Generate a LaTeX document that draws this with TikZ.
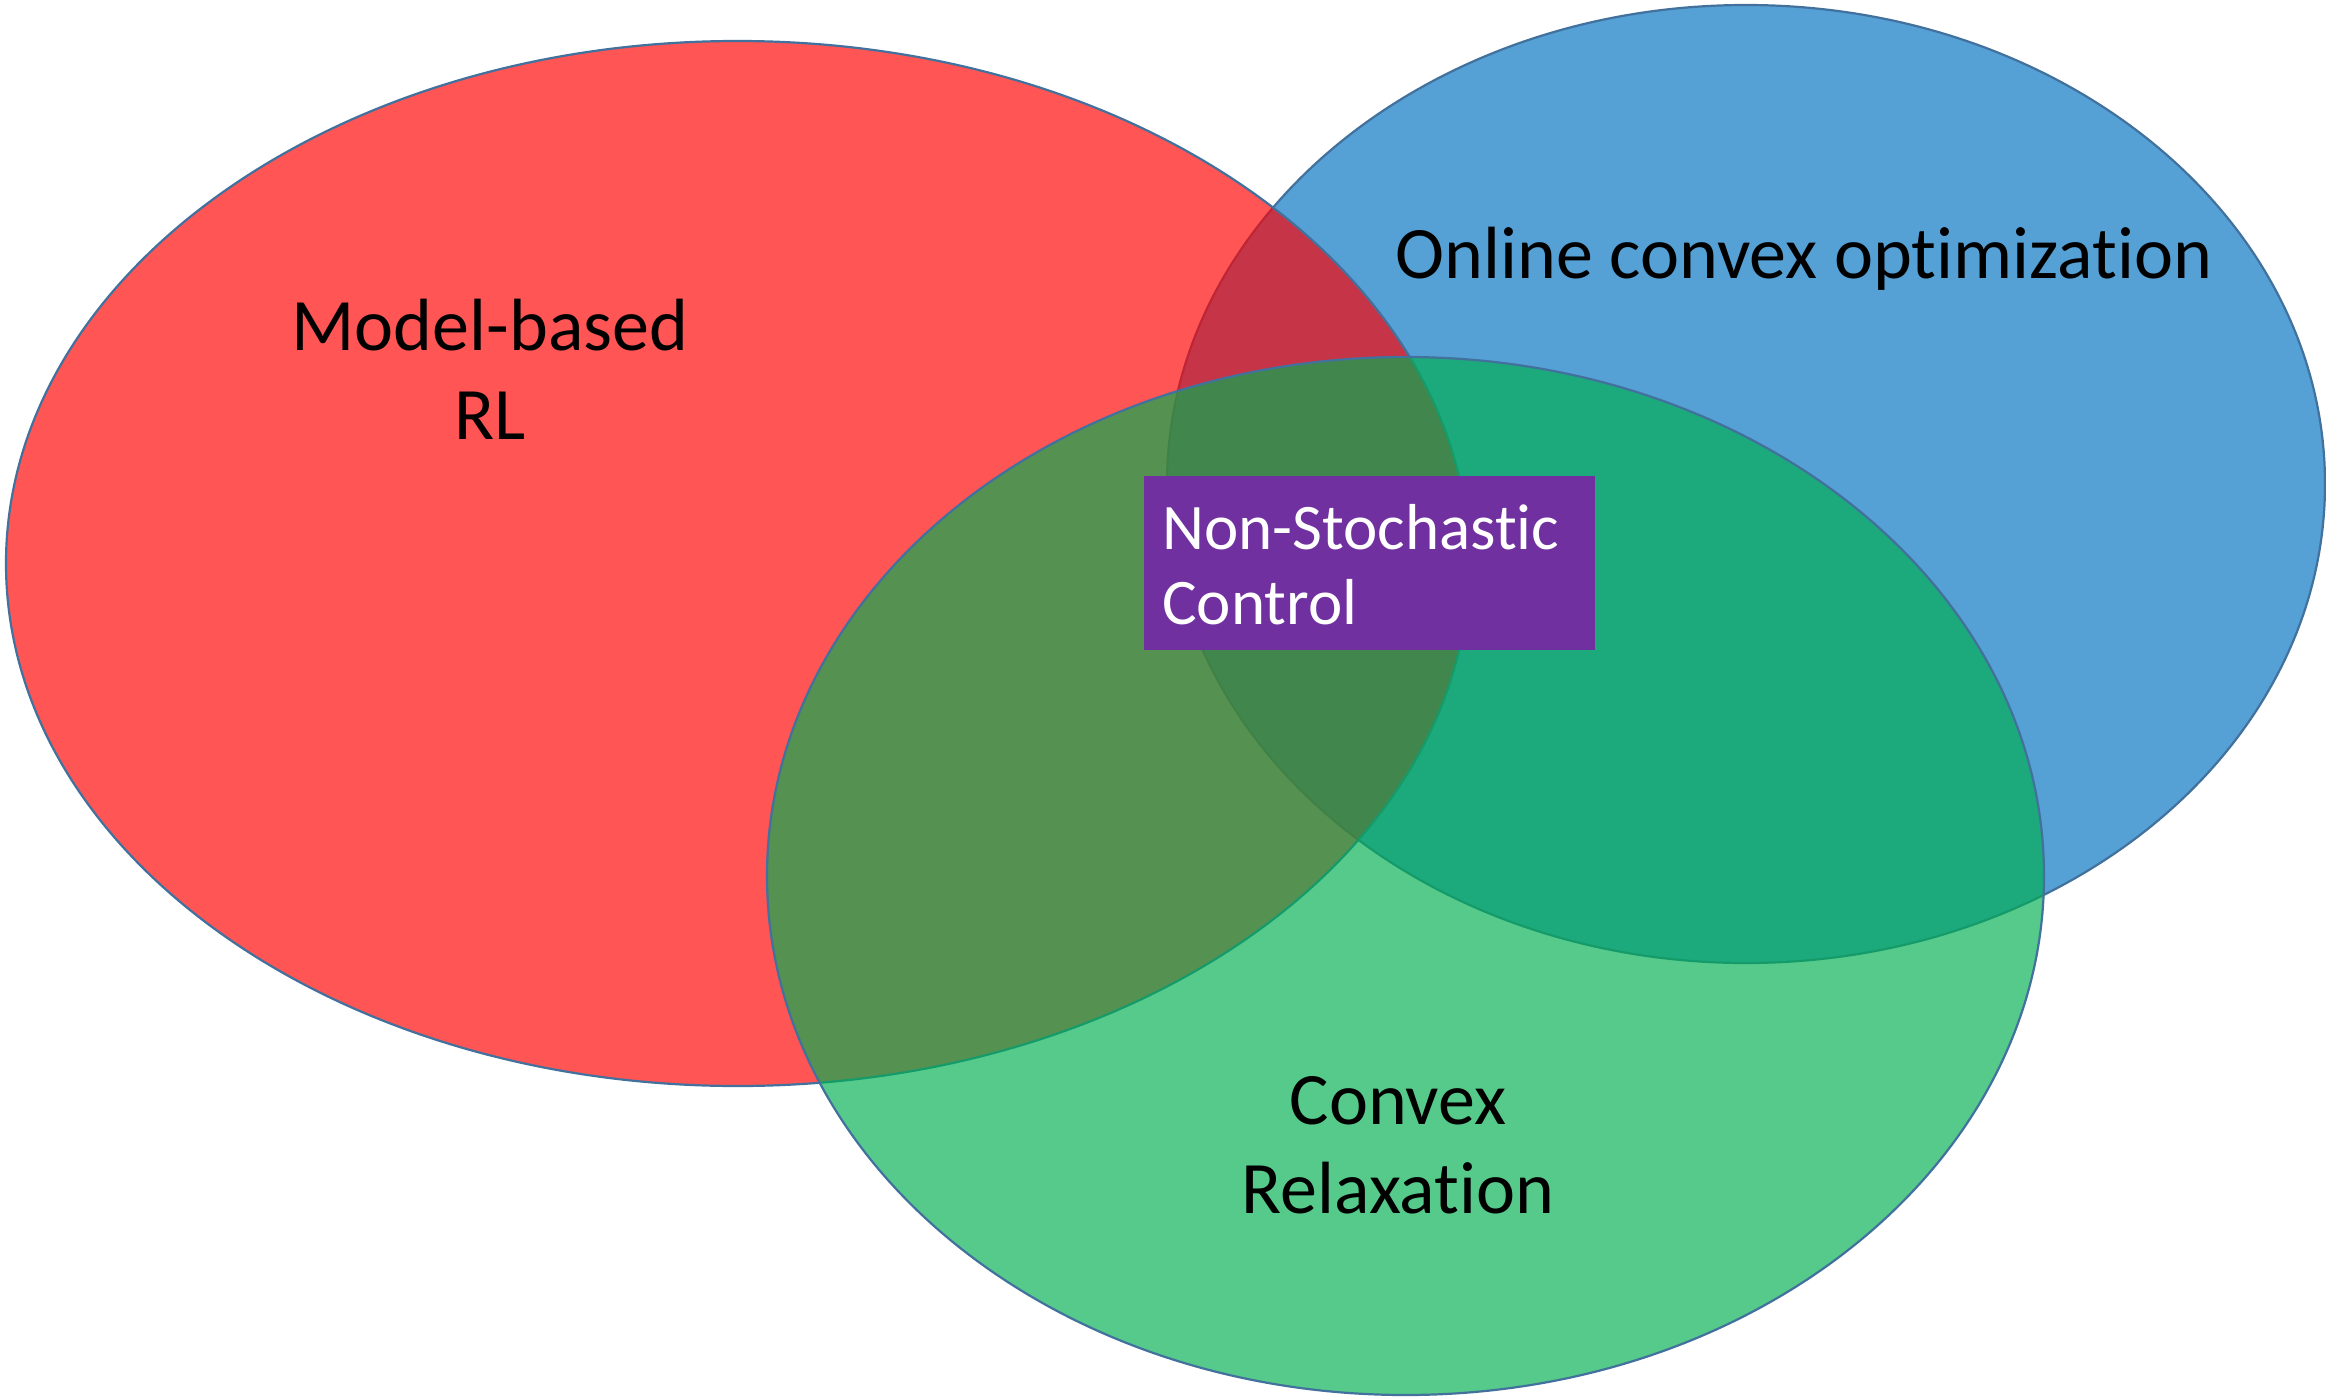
\documentclass[tikz,border=0pt]{standalone}
\usepackage{fontspec}
\setmainfont{Carlito}[Ligatures=NoCommon]
\usetikzlibrary{shapes.geometric}
\definecolor{setred}{HTML}{FF0000}
\definecolor{setblue}{HTML}{0070C0}
\definecolor{setgreen}{HTML}{00B050}
\definecolor{setline}{HTML}{41719C}
\definecolor{corebox}{HTML}{7030A0}
\tikzset{
  setellipse/.style={ellipse, draw=setline, line width=2.2pt, fill opacity=0.667, inner sep=0pt, outer sep=0pt},
  % multi-line labels are anchored at the baseline of their last line
  setlabel/.style={anchor=base, align=center, text=black, inner sep=0pt, font=\fontsize{74pt}{89pt}\selectfont},
  corelabel/.style={anchor=base west, align=left, text=white, inner sep=0pt, font=\fontsize{65pt}{75pt}\selectfont},
}
\begin{document}
\begin{tikzpicture}[x=1pt, y=-1pt]
  \useasboundingbox (0,0) rectangle (2326,1397);
  % three overlapping research areas
  \node[setellipse, fill=setblue, minimum width=1158pt, minimum height=958pt] (oco) at (1746,484) {};
  \node[setellipse, fill=setred, minimum width=1463pt, minimum height=1045pt] (mbrl) at (737.5,563.5) {};
  \node[setellipse, fill=setgreen, minimum width=1277pt, minimum height=1038pt] (relax) at (1405.5,876) {};
  % area names
  \node[setlabel] (mbrltext) at (490,439) {Model-based\\RL};
  \node[setlabel] (ocotext) at (1804,278) {Online convex optimization};
  \node[setlabel] (relaxtext) at (1398,1213) {Convex\\Relaxation};
  % the common core
  \node[fill=corebox, anchor=north west, minimum width=451pt, minimum height=174pt, inner sep=0pt] (core) at (1144,476) {};
  \node[corelabel] (coretext) at (1162,624) {Non-Stochastic\\Control};
\end{tikzpicture}
\end{document}
